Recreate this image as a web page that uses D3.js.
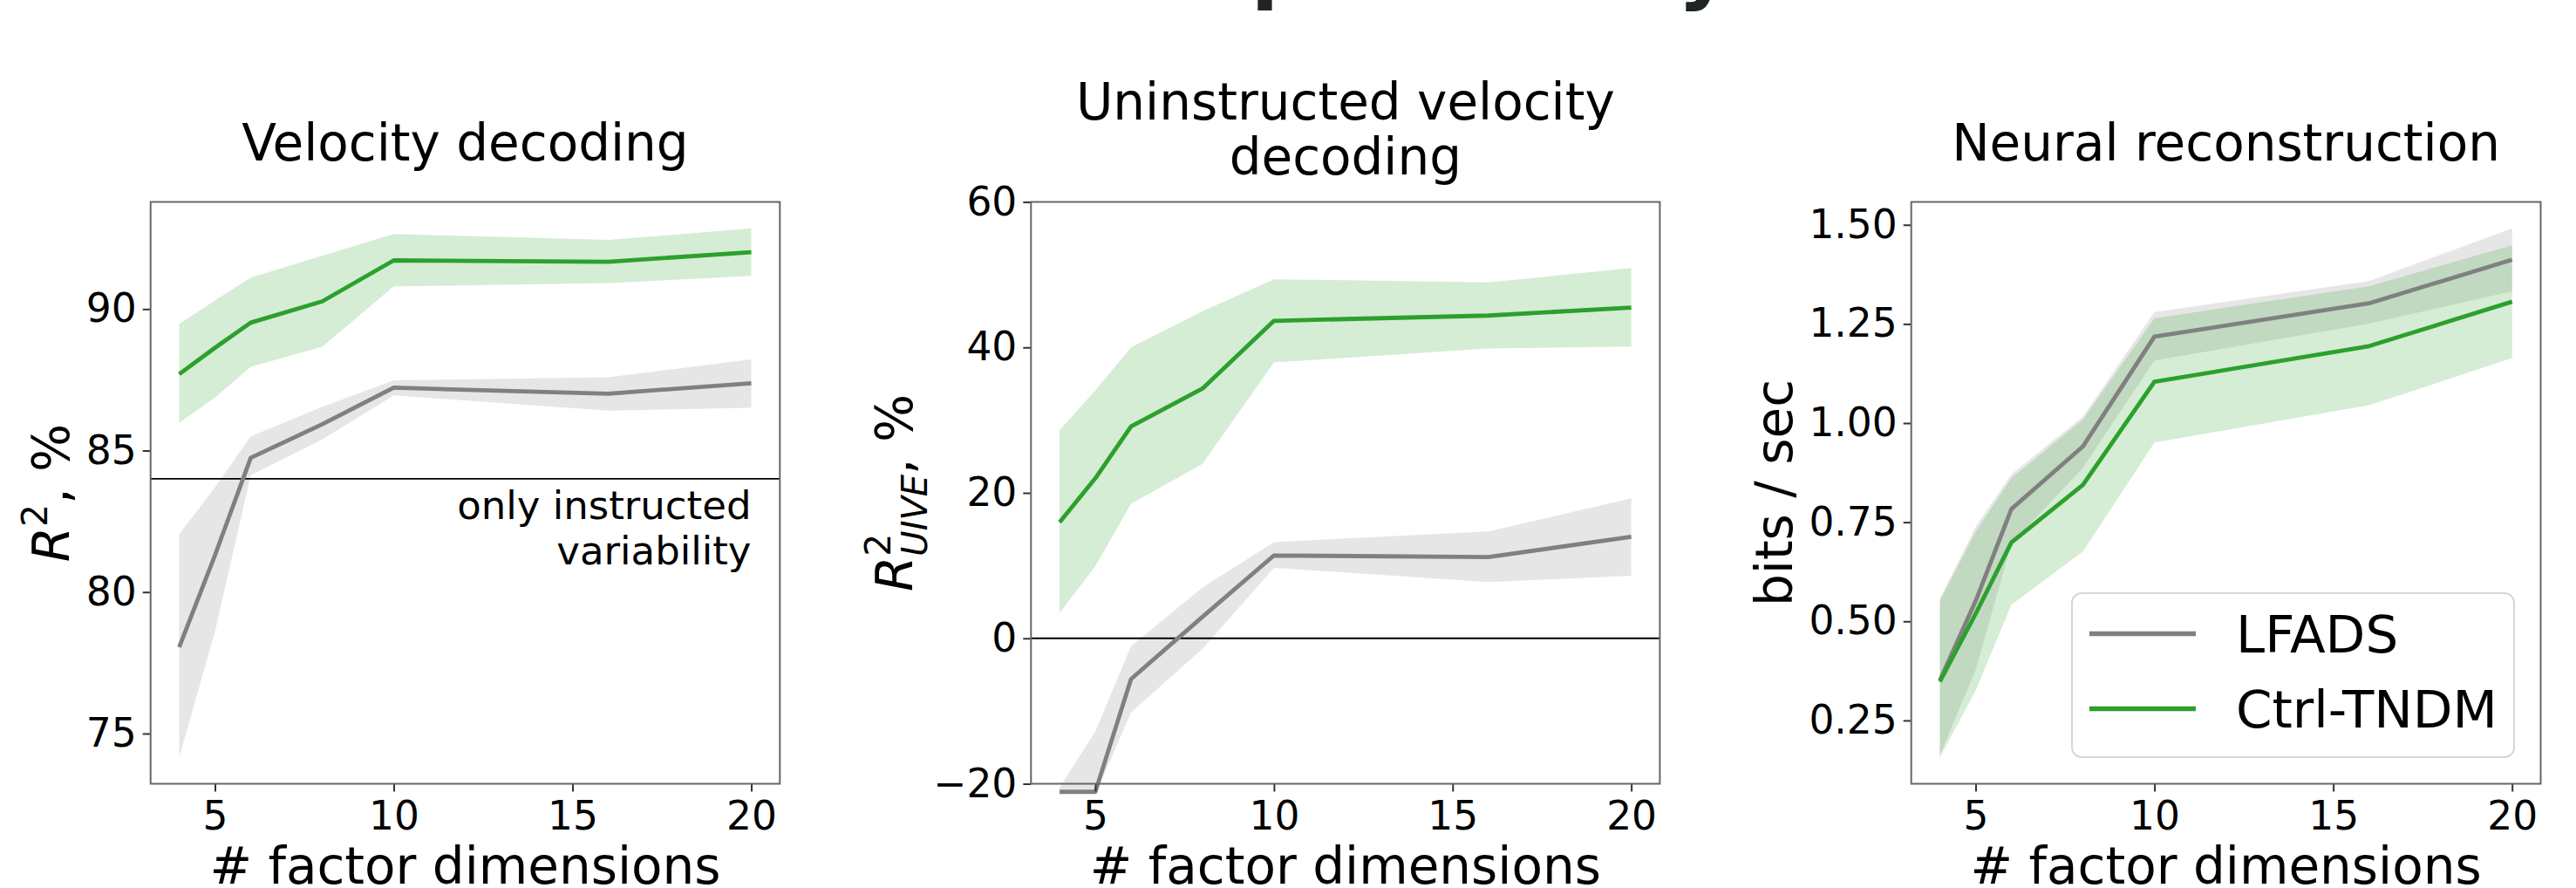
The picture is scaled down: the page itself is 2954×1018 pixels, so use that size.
<!DOCTYPE html>
<html>
<head>
<meta charset="utf-8">
<script src="https://cdn.jsdelivr.net/npm/d3@7"></script>
<style>
body { margin: 0; background: #fff; }
text { font-family: "DejaVu Sans", sans-serif; fill: #000; }
</style>
</head>
<body>
<svg id="fig"></svg>
<script>
const width = 2954;
const height = 1018;

const dims = [4, 5, 6, 8, 10, 16, 20];
const xTicks = [5, 10, 15, 20];
const models = ["LFADS", "Ctrl-TNDM"];
const colors = ["#808080", "#2ca02c"];

// velocity decoding, R^2 in %
const velLfads   = [78.05, 81.3, 84.74, 85.93, 87.22, 87.01, 87.38];
const velLfadsLo = [74.16, 78.6, 84.13, 85.39, 86.95, 86.41, 86.51];
const velLfadsHi = [82.04, 83.7, 85.50, 86.54, 87.48, 87.59, 88.22];
const velCtrl    = [87.70, 88.63, 89.52, 90.27, 91.72, 91.67, 92.01];
const velCtrlLo  = [85.98, 86.87, 87.96, 88.67, 90.80, 90.92, 91.17];
const velCtrlHi  = [89.47, 90.30, 91.11, 91.88, 92.65, 92.44, 92.85];
const velTicks = [75, 80, 85, 90];

// uninstructed velocity decoding, R^2_UIVE in %
const uiveLfads   = [-21.1, -21.1, -5.6, 2.96, 11.39, 11.17, 13.96];
const uiveLfadsLo = [-21.5, -21.5, -10.2, -1.44, 9.70, 7.73, 8.60];
const uiveLfadsHi = [-20.5, -12.8, -1.07, 7.00, 13.23, 14.70, 19.24];
const uiveCtrl    = [15.94, 22.00, 29.13, 34.34, 43.65, 44.38, 45.48];
const uiveCtrlLo  = [3.47, 9.93, 18.50, 24.00, 37.93, 39.84, 40.13];
const uiveCtrlHi  = [28.60, 34.10, 39.99, 44.97, 49.37, 48.93, 50.91];
const uiveTicks = [-20, 0, 20, 40, 60];

// neural reconstruction, bits / sec
const nrLfads   = [0.351, 0.551, 0.783, 0.941, 1.218, 1.302, 1.412];
const nrLfadsLo = [0.163, 0.377, 0.696, 0.887, 1.158, 1.251, 1.332];
const nrLfadsHi = [0.557, 0.738, 0.871, 1.016, 1.280, 1.358, 1.491];
const nrCtrl    = [0.348, 0.519, 0.699, 0.844, 1.104, 1.194, 1.306];
const nrCtrlLo  = [0.157, 0.325, 0.542, 0.676, 0.951, 1.045, 1.164];
const nrCtrlHi  = [0.551, 0.725, 0.861, 1.009, 1.264, 1.345, 1.448];
const nrTicks = [0.25, 0.5, 0.75, 1.0, 1.25, 1.5];

const plotTop = 231.5, plotBottom = 898.5;
const tickLen = 9;

const panels = [
    {title: ["Velocity decoding"], left: 172.7, right: 894.3,
     mean: [velLfads, velCtrl], lo: [velLfadsLo, velCtrlLo], hi: [velLfadsHi, velCtrlHi],
     yTicks: velTicks, fmt: d3.format("d"), ref: 84, labelX: 79, label: "r2"},
    {title: ["Uninstructed velocity", "decoding"], left: 1182.3, right: 1903.4,
     mean: [uiveLfads, uiveCtrl], lo: [uiveLfadsLo, uiveCtrlLo], hi: [uiveLfadsHi, uiveCtrlHi],
     yTicks: uiveTicks, fmt: d3.format("d"), ylim: [-20, 60], ref: 0, labelX: 1046, label: "uive"},
    {title: ["Neural reconstruction"], left: 2191.7, right: 2913.5,
     mean: [nrLfads, nrCtrl], lo: [nrLfadsLo, nrCtrlLo], hi: [nrLfadsHi, nrCtrlHi],
     yTicks: nrTicks, fmt: d3.format(".2f"), labelX: 2055, label: "bits", legend: true}
];

const svg = d3.select('#fig').attr('width', width).attr('height', height)

// suptitle, mostly above the visible area
const sup = svg.append('text')
    .attr('y', -7)
    .attr('font-size', 93).attr('font-weight', 'bold')
    .style('fill', '#1f2426')
    .text('Interpretability')
sup.attr('x', 1443 - 0.09 * 93 - sup.node().getSubStringLength(0, 5))

panels.forEach(p => {
    const x = d3.scaleLinear().domain([3.2, 20.8]).range([p.left, p.right]);
    let ylim = p.ylim;
    if (!ylim) {
        const all = p.lo.flat().concat(p.hi.flat(), p.mean.flat());
        const [mn, mx] = d3.extent(all);
        const pad = (mx - mn) * 0.05;
        ylim = [mn - pad, mx + pad];
    }
    const y = d3.scaleLinear().domain(ylim).range([plotBottom, plotTop]);
    const g = svg.append('g');
    const cx = (p.left + p.right) / 2;

    // Bands
    p.mean.forEach((m, s) => {
        g.append('path')
            .datum(d3.range(dims.length))
            .attr('d', d3.area().x(i => x(dims[i])).y0(i => y(p.lo[s][i])).y1(i => y(p.hi[s][i])))
            .style('fill', colors[s]).style('fill-opacity', 0.2).style('stroke', 'none')
    })

    // Reference line
    if (p.ref !== undefined) {
        g.append('line')
            .attr('x1', p.left).attr('x2', p.right)
            .attr('y1', y(p.ref)).attr('y2', y(p.ref))
            .style('stroke', '#000').style('stroke-width', 1.8)
    }

    // Lines
    p.mean.forEach((m, s) => {
        g.append('path')
            .datum(m)
            .attr('d', d3.line().x((d, i) => x(dims[i])).y(d => y(d)))
            .style('fill', 'none').style('stroke', colors[s]).style('stroke-width', 4.8)
            .style('stroke-linejoin', 'round')
    })

    // Axes
    const xAxis = g.append('g').attr('transform', `translate(0,${plotBottom})`)
        .call(d3.axisBottom(x).tickValues(xTicks).tickSize(tickLen).tickPadding(11).tickFormat(d3.format('d')));
    const yAxis = g.append('g').attr('transform', `translate(${p.left},0)`)
        .call(d3.axisLeft(y).tickValues(p.yTicks).tickSize(tickLen).tickPadding(7).tickFormat(p.fmt));
    [xAxis, yAxis].forEach(a => {
        a.select('.domain').remove();
        a.selectAll('line').style('stroke', '#333').style('stroke-width', 2);
        a.selectAll('text').attr('font-size', 45.5).style('font-family', '"DejaVu Sans", sans-serif');
    });

    g.append('rect')
        .attr('x', p.left).attr('y', plotTop)
        .attr('width', p.right - p.left).attr('height', plotBottom - plotTop)
        .style('fill', 'none').style('stroke', '#666').style('stroke-width', 2)

    // Title
    p.title.forEach((t, k) => {
        g.append('text')
            .attr('x', cx)
            .attr('y', p.title.length === 1 ? 184 : 136.5 + k * 63.5)
            .attr('text-anchor', 'middle').attr('font-size', 58)
            .text(t)
    })

    // X label
    g.append('text')
        .attr('x', cx).attr('y', 1013)
        .attr('text-anchor', 'middle').attr('font-size', 58)
        .text('# factor dimensions')

    // Y label
    const yl = g.append('text')
        .attr('transform', `translate(${p.labelX},${(plotTop + plotBottom) / 2}) rotate(-90)`)
        .attr('text-anchor', 'middle').attr('font-size', 58);
    if (p.label === 'r2') {
        yl.append('tspan').style('font-style', 'italic').text('R');
        yl.append('tspan').attr('font-size', 41).attr('dy', -25).text('2');
        yl.append('tspan').attr('dy', 25).text(', %');
    } else if (p.label === 'uive') {
        yl.append('tspan').style('font-style', 'italic').text('R');
        yl.append('tspan').attr('font-size', 41).attr('dy', -25).text('2');
        yl.append('tspan').attr('font-size', 40).style('font-style', 'italic')
            .attr('dx', -26).attr('dy', 42).text('UIVE');
        yl.append('tspan').attr('dy', -17).text(', %');
    } else {
        yl.text('bits / sec');
    }

    // Annotation under the reference line
    if (p.label === 'r2') {
        ['only instructed', 'variability'].forEach((t, k) => {
            g.append('text')
                .attr('x', x(20)).attr('y', y(p.ref) + 46 + k * 52)
                .attr('text-anchor', 'end').attr('font-size', 45)
                .text(t)
        })
    }

    // Legend
    if (p.legend) {
        const lg = g.append('g');
        lg.append('rect')
            .attr('x', 2376).attr('y', 680).attr('width', 507).attr('height', 188)
            .attr('rx', 11)
            .style('fill', '#fff').style('fill-opacity', 0.8)
            .style('stroke', '#d6d6d6').style('stroke-width', 2)
        models.forEach((name, s) => {
            const ly = 726.5 + s * 86;
            lg.append('line')
                .attr('x1', 2396).attr('x2', 2518).attr('y1', ly).attr('y2', ly)
                .style('stroke', colors[s]).style('stroke-width', 5.5)
            lg.append('text')
                .attr('x', 2564).attr('y', ly + 21)
                .attr('font-size', 59.5)
                .text(name)
        })
    }
})
</script>
</body>
</html>
